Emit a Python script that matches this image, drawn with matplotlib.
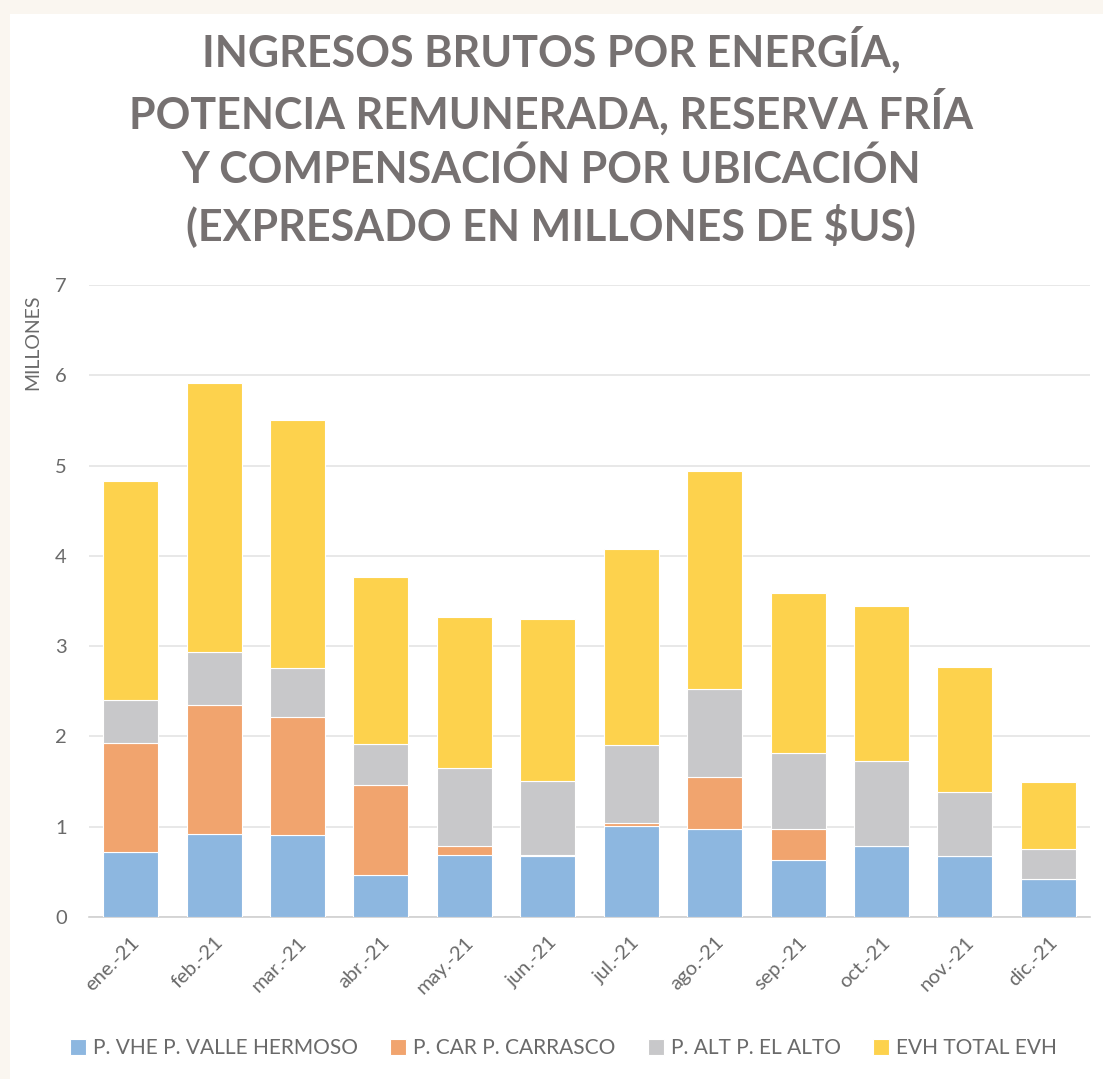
import matplotlib
matplotlib.use("Agg")
import matplotlib.pyplot as plt
from matplotlib.patches import Rectangle
import numpy as np

months = ["ene.-21", "feb.-21", "mar.-21", "abr.-21", "may.-21", "jun.-21",
          "jul.-21", "ago.-21", "sep.-21", "oct.-21", "nov.-21", "dic.-21"]
vhe = [0.72, 0.92, 0.91, 0.46, 0.69, 0.68, 1.01, 0.97, 0.63, 0.79, 0.68, 0.42]
car = [1.21, 1.43, 1.31, 1.00, 0.10, 0.01, 0.03, 0.58, 0.34, 0.00, 0.00, 0.00]
alt = [0.47, 0.58, 0.54, 0.46, 0.86, 0.82, 0.86, 0.97, 0.85, 0.94, 0.70, 0.33]
evh = [2.43, 2.98, 2.74, 1.85, 1.67, 1.79, 2.18, 2.42, 1.77, 1.71, 1.39, 0.74]
series_names = ["P. VHE P. VALLE HERMOSO", "P. CAR P. CARRASCO",
                "P. ALT P. EL ALTO", "EVH TOTAL EVH"]
colors = ["#8DB7E0", "#F1A46E", "#C8C8CA", "#FDD24D"]
title = ("INGRESOS BRUTOS POR ENERGÍA,\nPOTENCIA REMUNERADA, RESERVA FRÍA\n"
         "Y COMPENSACIÓN POR UBICACIÓN\n(EXPRESADO EN MILLONES DE $US)")

plt.rcParams['font.family'] = ['Lato', 'DejaVu Sans']
txt = "#6A6A6A"

fig = plt.figure(figsize=(11.03, 10.79), dpi=100, facecolor="white")
# faint cream frame at the top and left edges
fig.patches.append(Rectangle((0, 0), 10/1103, 1, transform=fig.transFigure,
                             facecolor="#FAF6F0", edgecolor="none", zorder=-10))
fig.patches.append(Rectangle((0, 1 - 14/1079), 1, 14/1079, transform=fig.transFigure,
                             facecolor="#FAF6F0", edgecolor="none", zorder=-10))
ax = fig.add_axes([89/1103, 1-917/1079, 1001/1103, (917-285)/1079])
ax.set_facecolor("none")

x = np.arange(len(months))
bottom = np.zeros(len(months))
for vals, c, name in zip([vhe, car, alt, evh], colors, series_names):
    ax.bar(x, vals, width=0.66, bottom=bottom, color=c, edgecolor="white",
           linewidth=0.8, label=name, zorder=3)
    bottom += np.array(vals)

ax.set_xlim(-0.5, len(months) - 0.5)
ax.set_ylim(0, 7)
ax.set_yticks(range(0, 8))
ax.yaxis.grid(True, color="#E4E4E4", linewidth=1.2, zorder=0)
ax.set_axisbelow(True)
for s in ["top", "right", "left"]:
    ax.spines[s].set_visible(False)
ax.spines["bottom"].set_color("#D0D0D0")
ax.spines["bottom"].set_linewidth(1.2)
ax.tick_params(axis="both", length=0, colors=txt, labelsize=14.5)
ax.tick_params(axis="y", pad=16)
ax.set_xticks(x)
ax.set_xticklabels(months, rotation=45, ha="right", rotation_mode="anchor")
ax.tick_params(axis="x", pad=12)

fig.text(33/1103, 1-342/1079, "MILLONES", rotation=90, ha="center", va="center",
         color=txt, fontsize=14)

fig.text(0.5, 1-137/1079, title, ha="center", va="center", color="#767171",
         fontsize=31, fontweight="bold", linespacing=1.36)

leg = fig.legend(loc="center", bbox_to_anchor=(0.511, 1-1048/1079), ncol=4,
                 frameon=False, fontsize=15, handlelength=0.75, handleheight=0.8,
                 handletextpad=0.35, columnspacing=1.55)
for t in leg.get_texts():
    t.set_color(txt)

fig.savefig("out.png", dpi=100, facecolor=fig.get_facecolor())
